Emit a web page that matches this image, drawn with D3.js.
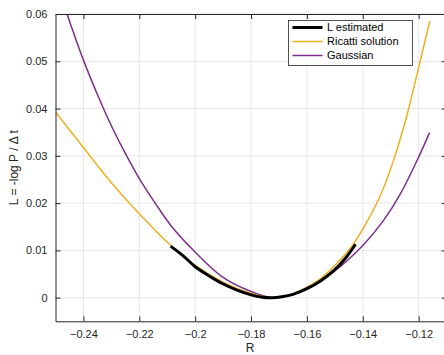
<!DOCTYPE html>
<html>
<head>
<meta charset="utf-8">
<script src="https://cdn.jsdelivr.net/npm/d3@7"></script>
<style>
  body { margin: 0; background: #fff; }
  svg { display: block; font-family: "Liberation Sans", Arial, sans-serif; }
</style>
</head>
<body>
<div id="chart"></div>
<script>
// Datos (R, L)
const estR = [-0.2088, -0.2040, -0.2001, -0.1950, -0.1903, -0.1850, -0.1800, -0.1760, -0.1725, -0.1690, -0.1650, -0.1600, -0.1550, -0.1504, -0.1460, -0.1426];
const estL = [0.0109, 0.0087, 0.0066, 0.0046, 0.0030, 0.0016, 0.0006, 0.0001, 0.0000, 0.0002, 0.0007, 0.0019, 0.0036, 0.0057, 0.0085, 0.0113];

const ricR = [-0.2500, -0.2401, -0.2297, -0.2201, -0.2094, -0.2001, -0.1903, -0.1800, -0.1725, -0.1650, -0.1600, -0.1550, -0.1504, -0.1444, -0.1399, -0.1337, -0.1289, -0.1241, -0.1198, -0.1160];
const ricL = [0.0393, 0.0318, 0.0241, 0.0178, 0.0114, 0.0069, 0.0034, 0.0009, 0.0000, 0.0008, 0.0022, 0.0041, 0.0066, 0.0105, 0.0146, 0.0216, 0.0292, 0.0388, 0.0492, 0.0585];

const gauR = [-0.2458, -0.2401, -0.2345, -0.2297, -0.2249, -0.2201, -0.2142, -0.2082, -0.2001, -0.1903, -0.1800, -0.1725, -0.1650, -0.1600, -0.1504, -0.1399, -0.1325, -0.1265, -0.1198, -0.1161];
const gauL = [0.0599, 0.0504, 0.0423, 0.0360, 0.0304, 0.0253, 0.0199, 0.0149, 0.0097, 0.0044, 0.0013, 0.0000, 0.0007, 0.0020, 0.0055, 0.0111, 0.0164, 0.0220, 0.0300, 0.0349];

const xTicks = [-0.24, -0.22, -0.2, -0.18, -0.16, -0.14, -0.12];
const yTicks = [0, 0.01, 0.02, 0.03, 0.04, 0.05, 0.06];
const legendNames = ["L estimated", "Ricatti solution", "Gaussian"];

// Configuración
const width = 444, height = 355;
const margin = {top: 14, left: 55.5};
const plotW = 391.1, plotH = 307.3;

const x = d3.scaleLinear().domain([-0.25, -0.11]).range([margin.left, margin.left + plotW]);
const y = d3.scaleLinear().domain([-0.005, 0.06]).range([margin.top + plotH, margin.top]);

const svg = d3.select("#chart").append("svg")
  .attr("width", width)
  .attr("height", height);

svg.append("defs").append("clipPath").attr("id", "clip")
  .append("rect")
  .attr("x", margin.left).attr("y", margin.top)
  .attr("width", plotW).attr("height", plotH);

// rejilla
const grid = svg.append("g");
grid.selectAll(".gx").data(xTicks).enter().append("line")
  .attr("x1", d => x(d)).attr("x2", d => x(d))
  .attr("y1", margin.top).attr("y2", margin.top + plotH)
  .style("stroke", "#e6e6e6").style("stroke-width", 1);
grid.selectAll(".gy").data(yTicks).enter().append("line")
  .attr("x1", margin.left).attr("x2", margin.left + plotW)
  .attr("y1", d => y(d)).attr("y2", d => y(d))
  .style("stroke", "#e6e6e6").style("stroke-width", 1);

// curvas
const line = d3.line()
  .x(d => x(d[0]))
  .y(d => y(d[1]))
  .curve(d3.curveCatmullRom.alpha(0.5));

const series = [
  {name: "Gaussian", pts: d3.zip(gauR, gauL), color: "#7E2F8E", w: 1.5},
  {name: "Ricatti solution", pts: d3.zip(ricR, ricL), color: "#EDB120", w: 1.5},
  {name: "L estimated", pts: d3.zip(estR, estL), color: "#000000", w: 3}
];

svg.append("g").attr("clip-path", "url(#clip)")
  .selectAll("path").data(series).enter().append("path")
  .attr("d", d => line(d.pts))
  .style("fill", "none")
  .style("stroke", d => d.color)
  .style("stroke-width", d => d.w);

// ejes (caja con ticks hacia dentro)
const axisColor = "#262626";
const fmt = d => d3.format("")(+d.toFixed(2));
const xBottom = d3.axisBottom(x).tickValues(xTicks).tickSizeInner(-5).tickSizeOuter(0).tickPadding(9).tickFormat(fmt);
const xTop = d3.axisTop(x).tickValues(xTicks).tickSizeInner(-5).tickSizeOuter(0).tickFormat("");
const yLeft = d3.axisLeft(y).tickValues(yTicks).tickSizeInner(-5).tickSizeOuter(0).tickPadding(8).tickFormat(fmt);
const yRight = d3.axisRight(y).tickValues(yTicks).tickSizeInner(-5).tickSizeOuter(0).tickFormat("");

function styleAxis(g) {
  g.select(".domain").style("stroke", axisColor);
  g.selectAll(".tick line").style("stroke", axisColor);
  g.selectAll(".tick text").style("fill", axisColor).style("font-size", "11px")
    .style("font-family", "Liberation Sans, Arial, sans-serif");
}

svg.append("g").attr("transform", `translate(0,${margin.top + plotH})`).call(xBottom).call(styleAxis);
svg.append("g").attr("transform", `translate(0,${margin.top})`).call(xTop).call(styleAxis);
svg.append("g").attr("transform", `translate(${margin.left},0)`).call(yLeft).call(styleAxis);
svg.append("g").attr("transform", `translate(${margin.left + plotW},0)`).call(yRight).call(styleAxis);

// etiquetas
svg.append("text")
  .attr("x", 250).attr("y", 352)
  .attr("text-anchor", "middle")
  .style("font-size", "12px").style("fill", axisColor)
  .text("R");

svg.append("text")
  .attr("transform", `translate(18,${margin.top + plotH / 2}) rotate(-90)`)
  .attr("text-anchor", "middle")
  .style("font-size", "12px").style("fill", axisColor)
  .text("L = -log P / \u0394 t");

// leyenda
const lg = svg.append("g");
lg.append("rect")
  .attr("x", 288.5).attr("y", 20.5)
  .attr("width", 124).attr("height", 45)
  .style("fill", "#fff").style("stroke", axisColor).style("stroke-width", 0.8);

const legendSeries = legendNames.map(n => series.find(s => s.name === n));
const item = lg.selectAll(".item").data(legendSeries).enter().append("g")
  .attr("transform", (d, i) => `translate(0,${27.5 + i * 14})`);
item.append("line")
  .attr("x1", 292.5).attr("x2", 322.5)
  .style("stroke", d => d.color)
  .style("stroke-width", d => d.w);
item.append("text")
  .attr("x", 327).attr("dy", "0.35em")
  .style("font-size", "11px").style("fill", "#000")
  .text(d => d.name);
</script>
</body>
</html>
